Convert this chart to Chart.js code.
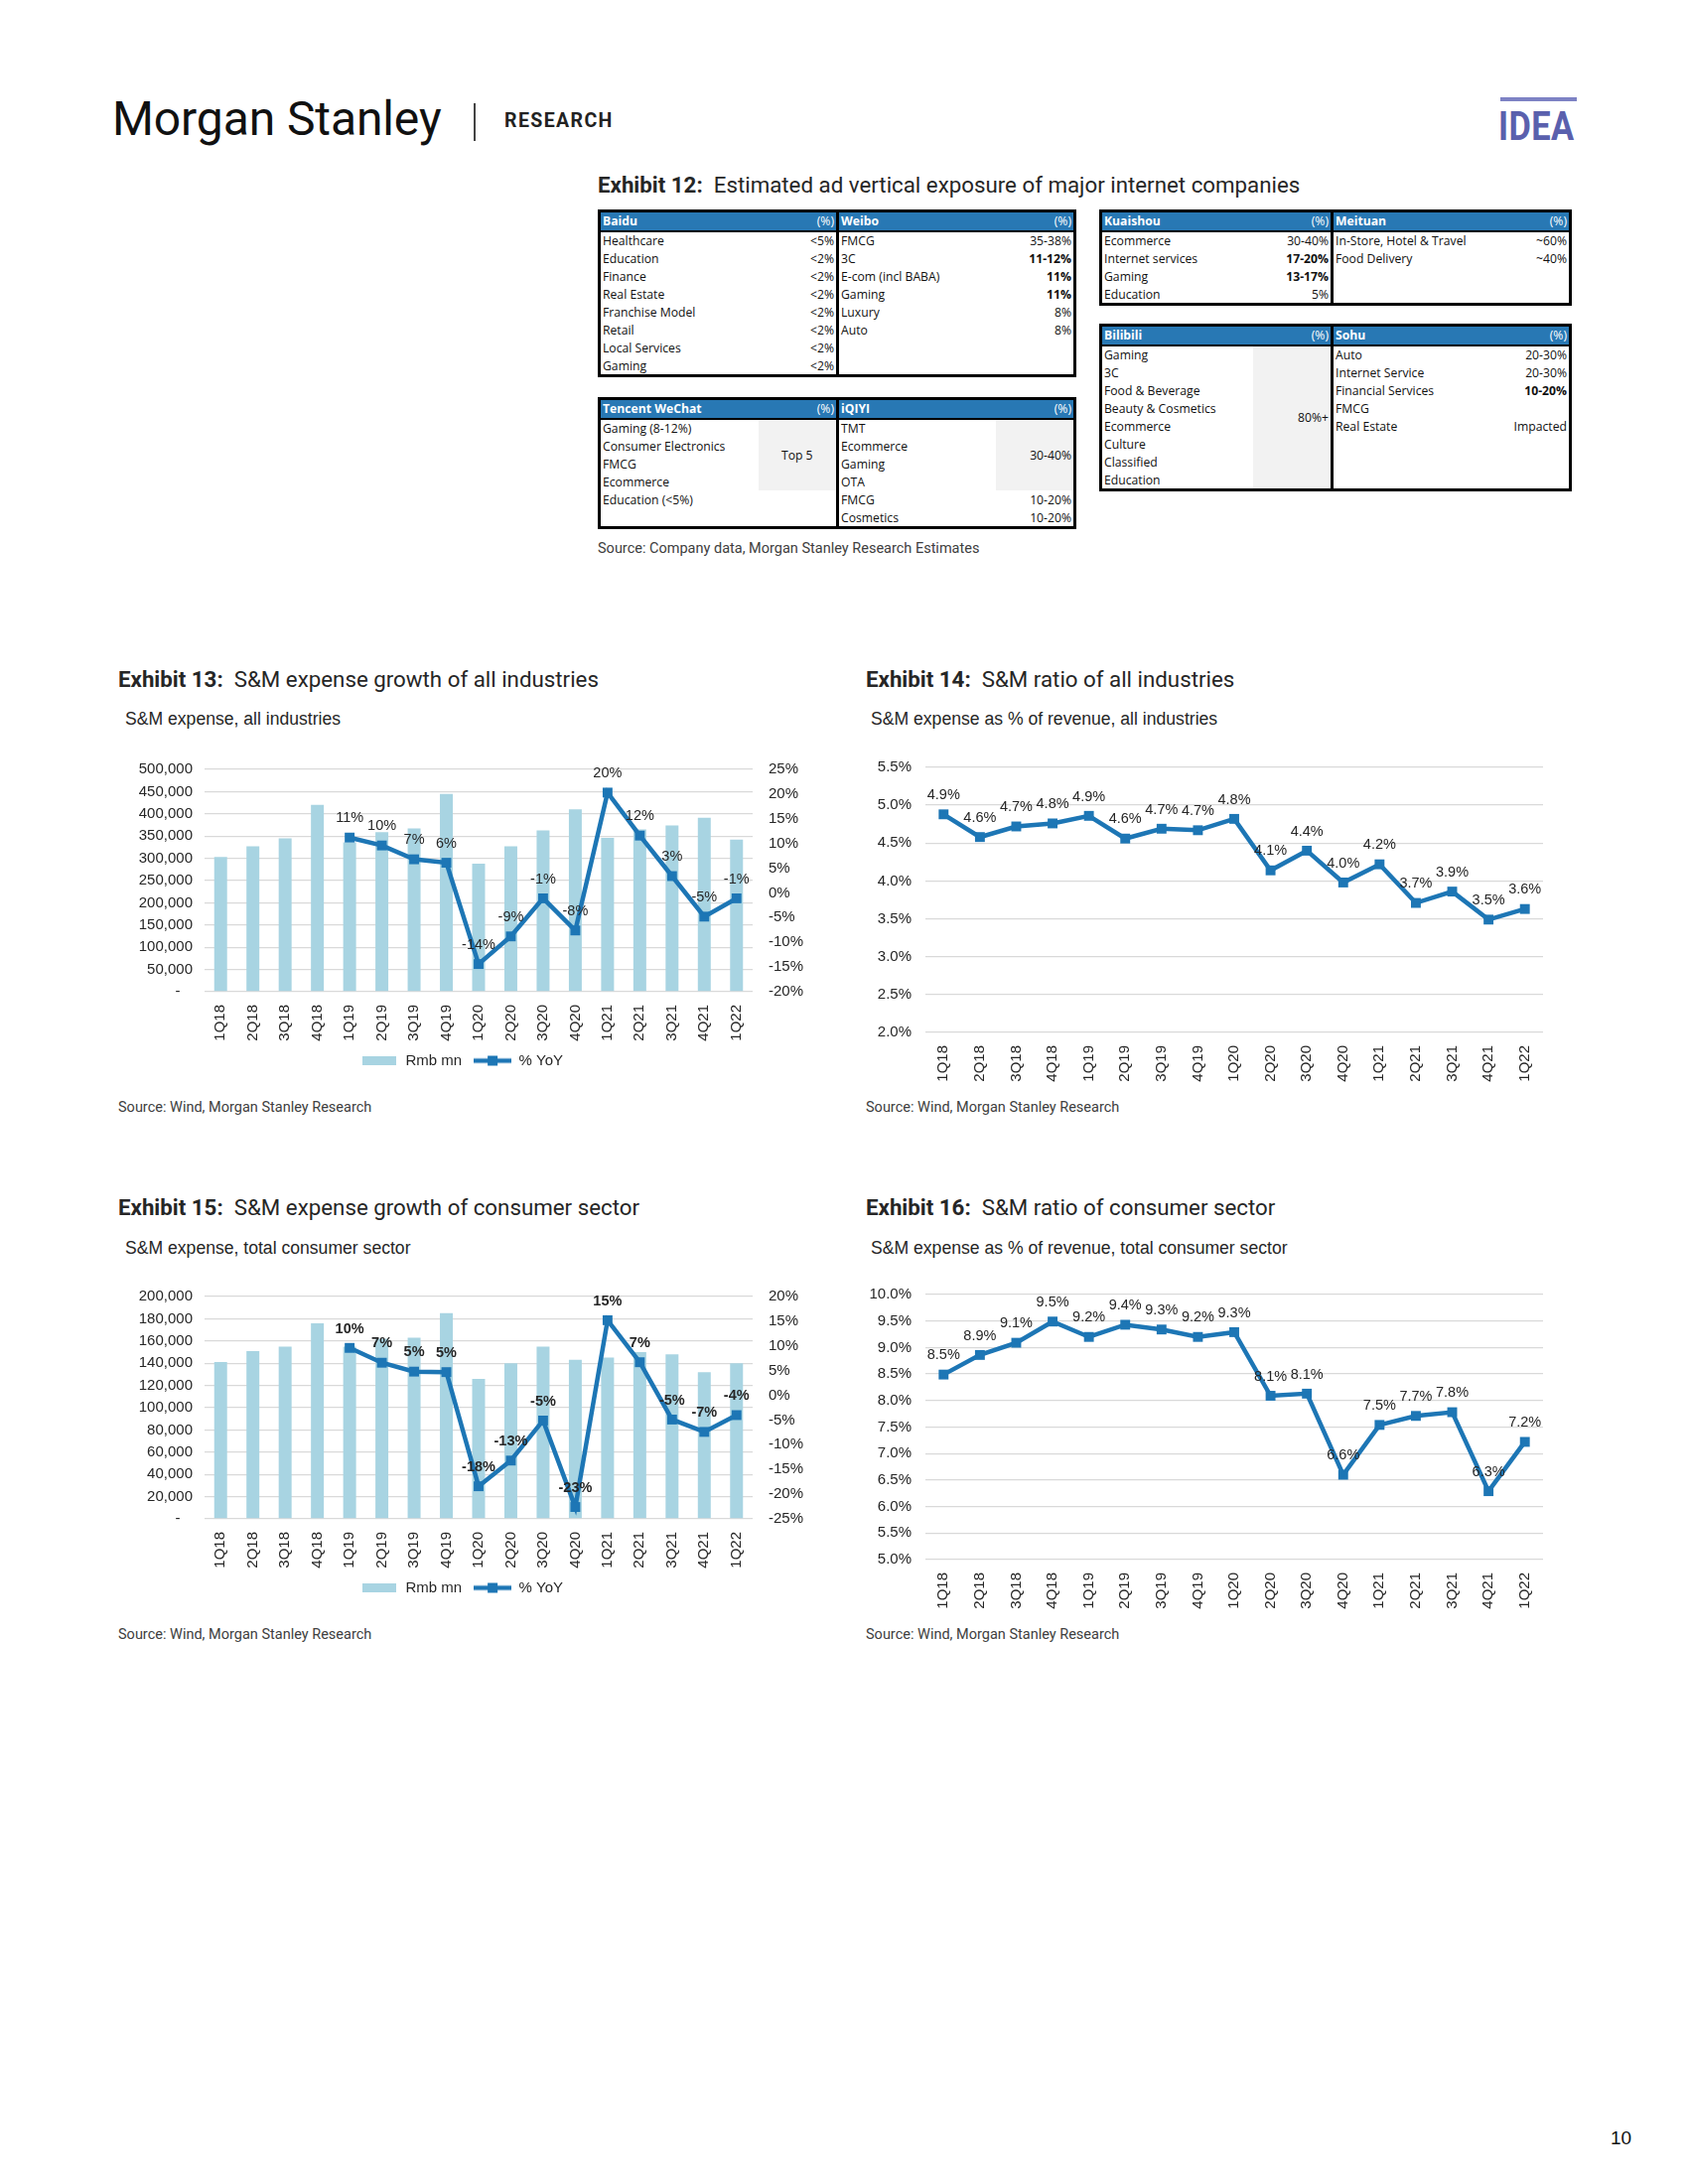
<!DOCTYPE html>
<html>
<head>
<meta charset="utf-8">
<script src="https://cdn.jsdelivr.net/npm/chart.js@4.4.1/dist/chart.umd.min.js"></script>
<style>
body{margin:0;width:1700px;height:2200px;background:#fff;position:relative;font-family:Roboto,sans-serif;color:#262626}
.abs{position:absolute;white-space:nowrap}
.logo{left:113px;top:92px;font-size:48px;line-height:56px;letter-spacing:-0.1px;color:#111}
.research{left:508px;top:110px;font-size:19.5px;font-weight:bold;letter-spacing:1.4px;color:#222}
.divider{left:477px;top:104px;width:1.5px;height:38px;background:#444}
.idea{left:1509px;top:106px;font-size:40px;line-height:44px;font-weight:bold;color:#5a60ad;transform:scaleX(0.86);transform-origin:left top;letter-spacing:0.5px}
.ideabar{left:1511px;top:98px;width:77px;height:4px;background:#7d82c4}
.title{font-size:22.3px;line-height:26px;color:#262626}
.title b{font-weight:bold}
.sub{font-size:17.6px;line-height:20px;font-family:"Liberation Sans",Arial,sans-serif;color:#262626}
.src{font-size:14.5px;line-height:16px;color:#404040}
.box{position:absolute}
table.t{position:absolute;border-collapse:collapse;border:3px solid #000;font-family:"Open Sans",sans-serif;font-size:12.2px;color:#111;table-layout:fixed}
table.t td{height:17.9px;padding:0 2px;white-space:nowrap;line-height:13px}
table.t tr.h td{background:#2878b4;color:#fff;font-weight:bold;border-bottom:2.5px solid #000}
table.t tr.h td.v{font-weight:normal}
table.t td.v{text-align:right}
table.t td.sep{border-right:3px solid #000}
table.t td.g{background:#f2f2f2}
table.t td.c{text-align:center}
table.t b{font-weight:bold}
.pg{left:1622px;top:2143px;font-size:19px;font-family:"Liberation Sans",Arial,sans-serif;color:#111}
</style>
</head>
<body>
<div class="abs logo">Morgan Stanley</div>
<div class="abs divider"></div>
<div class="abs research">RESEARCH</div>
<div class="abs ideabar"></div>
<div class="abs idea">IDEA</div>

<div class="abs title" style="left:602px;top:173px"><b>Exhibit 12:</b>&nbsp; Estimated ad vertical exposure of major internet companies</div>

<table class="t" style="left:602px;top:211px;width:479px">
<colgroup><col style="width:200px"><col style="width:40px"><col style="width:168px"><col style="width:71px"></colgroup>
<tr class="h"><td>Baidu</td><td class="v sep">(%)</td><td>Weibo</td><td class="v">(%)</td></tr>
<tr><td>Healthcare</td><td class="v sep">&lt;5%</td><td>FMCG</td><td class="v">35-38%</td></tr>
<tr><td>Education</td><td class="v sep">&lt;2%</td><td>3C</td><td class="v"><b>11-12%</b></td></tr>
<tr><td>Finance</td><td class="v sep">&lt;2%</td><td>E-com (incl BABA)</td><td class="v"><b>11%</b></td></tr>
<tr><td>Real Estate</td><td class="v sep">&lt;2%</td><td>Gaming</td><td class="v"><b>11%</b></td></tr>
<tr><td>Franchise Model</td><td class="v sep">&lt;2%</td><td>Luxury</td><td class="v">8%</td></tr>
<tr><td>Retail</td><td class="v sep">&lt;2%</td><td>Auto</td><td class="v">8%</td></tr>
<tr><td>Local Services</td><td class="v sep">&lt;2%</td><td></td><td class="v"></td></tr>
<tr><td>Gaming</td><td class="v sep">&lt;2%</td><td></td><td class="v"></td></tr>
</table>

<table class="t" style="left:602px;top:400px;width:479px">
<colgroup><col style="width:160px"><col style="width:80px"><col style="width:159px"><col style="width:80px"></colgroup>
<tr class="h"><td>Tencent WeChat</td><td class="v sep">(%)</td><td>iQIYI</td><td class="v">(%)</td></tr>
<tr><td>Gaming (8-12%)</td><td class="c sep g" rowspan="4">Top 5</td><td>TMT</td><td class="v g" rowspan="4">30-40%</td></tr>
<tr><td>Consumer Electronics</td><td>Ecommerce</td></tr>
<tr><td>FMCG</td><td>Gaming</td></tr>
<tr><td>Ecommerce</td><td>OTA</td></tr>
<tr><td>Education (&lt;5%)</td><td class="sep"></td><td>FMCG</td><td class="v">10-20%</td></tr>
<tr><td></td><td class="sep"></td><td>Cosmetics</td><td class="v">10-20%</td></tr>
</table>

<table class="t" style="left:1107px;top:211px;width:473px">
<colgroup><col style="width:157px"><col style="width:76px"><col style="width:169px"><col style="width:71px"></colgroup>
<tr class="h"><td>Kuaishou</td><td class="v sep">(%)</td><td>Meituan</td><td class="v">(%)</td></tr>
<tr><td>Ecommerce</td><td class="v sep">30-40%</td><td>In-Store, Hotel &amp; Travel</td><td class="v">~60%</td></tr>
<tr><td>Internet services</td><td class="v sep"><b>17-20%</b></td><td>Food Delivery</td><td class="v">~40%</td></tr>
<tr><td>Gaming</td><td class="v sep"><b>13-17%</b></td><td></td><td class="v"></td></tr>
<tr><td>Education</td><td class="v sep">5%</td><td></td><td class="v"></td></tr>
</table>

<table class="t" style="left:1107px;top:326px;width:473px">
<colgroup><col style="width:153px"><col style="width:80px"><col style="width:169px"><col style="width:71px"></colgroup>
<tr class="h"><td>Bilibili</td><td class="v sep">(%)</td><td>Sohu</td><td class="v">(%)</td></tr>
<tr><td>Gaming</td><td class="v sep g" rowspan="8">80%+</td><td>Auto</td><td class="v">20-30%</td></tr>
<tr><td>3C</td><td>Internet Service</td><td class="v">20-30%</td></tr>
<tr><td>Food &amp; Beverage</td><td>Financial Services</td><td class="v"><b>10-20%</b></td></tr>
<tr><td>Beauty &amp; Cosmetics</td><td>FMCG</td><td class="v"></td></tr>
<tr><td>Ecommerce</td><td>Real Estate</td><td class="v">Impacted</td></tr>
<tr><td>Culture</td><td></td><td class="v"></td></tr>
<tr><td>Classified</td><td></td><td class="v"></td></tr>
<tr><td>Education</td><td></td><td class="v"></td></tr>
</table>

<div class="abs src" style="left:602px;top:545px">Source: Company data, Morgan Stanley Research Estimates</div>

<div class="abs title" style="left:119px;top:671px"><b>Exhibit 13:</b>&nbsp; S&amp;M expense growth of all industries</div>
<div class="abs sub" style="left:126px;top:714px">S&amp;M expense, all industries</div>
<div class="box" style="left:110px;top:750px;width:710px;height:345px"><canvas id="c13"></canvas></div>
<div class="abs src" style="left:119px;top:1108px">Source: Wind, Morgan Stanley Research</div>

<div class="abs title" style="left:872px;top:671px"><b>Exhibit 14:</b>&nbsp; S&amp;M ratio of all industries</div>
<div class="abs sub" style="left:877px;top:714px">S&amp;M expense as % of revenue, all industries</div>
<div class="box" style="left:860px;top:750px;width:730px;height:345px"><canvas id="c14"></canvas></div>
<div class="abs src" style="left:872px;top:1108px">Source: Wind, Morgan Stanley Research</div>

<div class="abs title" style="left:119px;top:1203px"><b>Exhibit 15:</b>&nbsp; S&amp;M expense growth of consumer sector</div>
<div class="abs sub" style="left:126px;top:1247px">S&amp;M expense, total consumer sector</div>
<div class="box" style="left:110px;top:1281px;width:710px;height:345px"><canvas id="c15"></canvas></div>
<div class="abs src" style="left:119px;top:1639px">Source: Wind, Morgan Stanley Research</div>

<div class="abs title" style="left:872px;top:1203px"><b>Exhibit 16:</b>&nbsp; S&amp;M ratio of consumer sector</div>
<div class="abs sub" style="left:877px;top:1247px">S&amp;M expense as % of revenue, total consumer sector</div>
<div class="box" style="left:860px;top:1281px;width:730px;height:345px"><canvas id="c16"></canvas></div>
<div class="abs src" style="left:872px;top:1639px">Source: Wind, Morgan Stanley Research</div>

<div class="abs pg">10</div>

<script>
// quarters shared by all four exhibits
const quarters = ['1Q18','2Q18','3Q18','4Q18','1Q19','2Q19','3Q19','4Q19','1Q20','2Q20','3Q20','4Q20','1Q21','2Q21','3Q21','4Q21','1Q22'];

// Exhibit 13 - all industries
const allSpend = [303000,327000,345000,420000,336000,359000,367000,445000,288000,327000,363000,410000,346000,365000,374000,391000,342000];
const allYoY = [null,null,null,null,11.2,9.6,6.8,6.1,-14.4,-8.8,-1.1,-7.6,20.3,11.6,3.4,-4.8,-1.1];

// Exhibit 14 - all industries ratio
const allRatio = [4.88,4.58,4.72,4.76,4.86,4.56,4.69,4.67,4.82,4.14,4.40,3.98,4.22,3.71,3.86,3.49,3.63];

// Exhibit 15 - consumer sector
const consSpend = [141000,151000,155000,176000,155000,162000,163000,185000,126000,140000,155000,143000,145000,150000,148000,132000,140000];
const consYoY = [null,null,null,null,9.6,6.6,4.8,4.7,-18.4,-13.2,-5.1,-22.6,15.2,6.7,-4.9,-7.4,-4.0];

// Exhibit 16 - consumer sector ratio
const consRatio = [8.49,8.86,9.09,9.49,9.20,9.43,9.34,9.20,9.29,8.09,8.13,6.60,7.54,7.71,7.78,6.29,7.22];

const BAR = '#a8d4e2';
const LINE = '#1d76b5';
const GRID = '#d9d9d9';
const TXT = '#262626';

Chart.defaults.font.family = '"Liberation Sans", Arial, sans-serif';
Chart.defaults.color = TXT;
Chart.defaults.animation = false;

// value labels above line points
const pointLabels = {
  id: 'pointLabels',
  afterDatasetsDraw(chart, args, opts) {
    const ctx = chart.ctx;
    chart.data.datasets.forEach((ds, i) => {
      if (ds.type !== 'line' && chart.config.type !== 'line') return;
      const meta = chart.getDatasetMeta(i);
      ctx.save();
      ctx.font = (opts.bold ? 'bold ' : '') + '14.5px "Liberation Sans", Arial, sans-serif';
      ctx.fillStyle = TXT;
      ctx.textAlign = 'center';
      ctx.textBaseline = 'bottom';
      meta.data.forEach((pt, j) => {
        const v = ds.data[j];
        if (v == null) return;
        ctx.fillText(v.toFixed(opts.decimals) + '%', pt.x, pt.y - 12);
      });
      ctx.restore();
    });
  }
};

function barIcon() {
  const c = document.createElement('canvas');
  c.width = 34; c.height = 9;
  const x = c.getContext('2d');
  x.fillStyle = BAR;
  x.fillRect(0, 0, 34, 9);
  return c;
}
function lineIcon() {
  const c = document.createElement('canvas');
  c.width = 38; c.height = 12;
  const x = c.getContext('2d');
  x.strokeStyle = LINE; x.lineWidth = 4.5;
  x.beginPath(); x.moveTo(0, 6); x.lineTo(38, 6); x.stroke();
  x.fillStyle = LINE;
  x.fillRect(14, 1, 10, 10);
  return c;
}

const xAxis = {
  offset: true,
  grid: { display: false },
  border: { display: false },
  ticks: { minRotation: 90, maxRotation: 90, padding: 5, font: { size: 15 }, color: TXT, autoSkip: false },
  afterFit: s => { s.height = 50; }
};

function comboChart(id, spend, yoy, yMax, yStep, rMin, rMax, boldLabels) {
  new Chart(document.getElementById(id), {
    type: 'bar',
    data: {
      labels: quarters,
      datasets: [
        { type: 'bar', label: 'Rmb mn', data: spend, backgroundColor: BAR, yAxisID: 'y',
          barPercentage: 0.4, categoryPercentage: 1, order: 2 },
        { type: 'line', label: '% YoY', data: yoy, borderColor: LINE, backgroundColor: LINE, yAxisID: 'y1',
          borderWidth: 4.5, pointStyle: 'rect', pointRadius: 7, pointBackgroundColor: LINE,
          pointBorderWidth: 0, tension: 0, order: 1 }
      ]
    },
    options: {
      responsive: true,
      maintainAspectRatio: false,
      layout: { padding: { top: 15, bottom: 9, left: 0, right: 0 } },
      scales: {
        x: xAxis,
        y: {
          min: 0, max: yMax,
          ticks: { stepSize: yStep, padding: 12, font: { size: 15 }, color: TXT,
            callback: v => v === 0 ? '-   ' : v.toLocaleString('en-US') },
          grid: { color: GRID, lineWidth: 1.3, drawTicks: false },
          border: { display: false },
          afterFit: s => { s.width = 96; }
        },
        y1: {
          position: 'right', min: rMin, max: rMax,
          ticks: { stepSize: 5, padding: 16, font: { size: 15 }, color: TXT, callback: v => v + '%' },
          grid: { display: false, drawTicks: false },
          border: { display: false },
          afterFit: s => { s.width = 62; }
        }
      },
      plugins: {
        tooltip: { enabled: false },
        pointLabels: { decimals: 0, bold: boldLabels },
        legend: {
          position: 'bottom',
          labels: {
            usePointStyle: true, pointStyleWidth: 38, boxHeight: 12, padding: 12,
            font: { size: 15 }, color: TXT,
            sort: (a, b) => a.datasetIndex - b.datasetIndex,
            generateLabels: chart => {
              const items = Chart.defaults.plugins.legend.labels.generateLabels(chart);
              items.forEach(it => { it.pointStyle = it.datasetIndex === 0 ? barIcon() : lineIcon(); });
              return items;
            }
          }
        }
      }
    },
    plugins: [pointLabels]
  });
}

function ratioChart(id, values, yMin, yMax) {
  new Chart(document.getElementById(id), {
    type: 'line',
    data: {
      labels: quarters,
      datasets: [
        { label: 'S&M ratio', data: values, borderColor: LINE, backgroundColor: LINE,
          borderWidth: 4.5, pointStyle: 'rect', pointRadius: 7, pointBorderWidth: 0, tension: 0 }
      ]
    },
    options: {
      responsive: true,
      maintainAspectRatio: false,
      layout: { padding: { top: 15, bottom: 5, left: 0, right: 36 } },
      scales: {
        x: xAxis,
        y: {
          min: yMin, max: yMax,
          ticks: { stepSize: 0.5, padding: 14, font: { size: 15 }, color: TXT, callback: v => v.toFixed(1) + '%' },
          grid: { color: GRID, lineWidth: 1.3, drawTicks: false },
          border: { display: false },
          afterFit: s => { s.width = 72; }
        }
      },
      plugins: {
        tooltip: { enabled: false },
        legend: { display: false },
        pointLabels: { decimals: 1, bold: false }
      }
    },
    plugins: [pointLabels]
  });
}

comboChart('c13', allSpend, allYoY, 500000, 50000, -20, 25, false);
ratioChart('c14', allRatio, 2, 5.5);
comboChart('c15', consSpend, consYoY, 200000, 20000, -25, 20, true);
ratioChart('c16', consRatio, 5, 10);
</script>
</body>
</html>
